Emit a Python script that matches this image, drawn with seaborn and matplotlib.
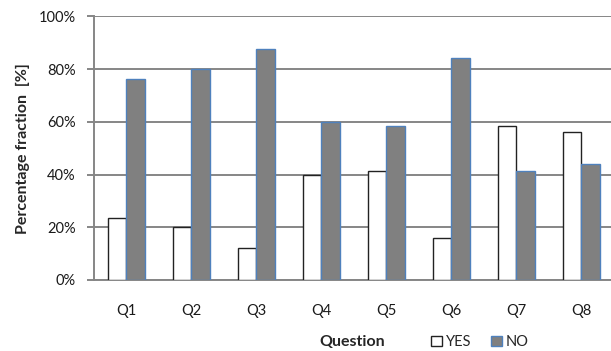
import seaborn as sns
import matplotlib.pyplot as plt
import matplotlib.patches as mpatches
import pandas as pd

# values
questions = ["Q1", "Q2", "Q3", "Q4", "Q5", "Q6", "Q7", "Q8"]
yes_pct = [23.6, 20.0, 12.3, 40.0, 41.5, 15.8, 58.5, 56.0]
no_pct = [76.4, 80.0, 87.7, 60.0, 58.5, 84.2, 41.5, 44.0]

df = pd.DataFrame({
    "Question": questions * 2,
    "Answer": ["YES"] * len(questions) + ["NO"] * len(questions),
    "Percent": yes_pct + no_pct,
})

sns.set_style("white")
plt.rcParams["font.family"] = ["Lato", "DejaVu Sans"]

fig = plt.figure(figsize=(6.11, 3.51), dpi=100)
ax = fig.add_axes([0.1532, 0.2023, 0.851, 0.7507])

sns.barplot(data=df, x="Question", y="Percent", hue="Answer",
            hue_order=["YES", "NO"], palette={"YES": "white", "NO": "#808080"},
            width=0.57, gap=0, ax=ax, legend=False, zorder=3)

for bar in ax.patches:
    if bar.get_facecolor()[0] > 0.9:
        bar.set_edgecolor("#222222")
    else:
        bar.set_edgecolor("#4F81BD")
    bar.set_linewidth(1.0)

ax.set_ylim(0, 100)
ax.set_xlim(-0.5, 7.5)
ax.set_yticks(range(0, 101, 20))
ax.set_yticklabels([f"{v}%" for v in range(0, 101, 20)])
ax.yaxis.grid(True, color="#868686", linewidth=1.4, zorder=0)
ax.set_axisbelow(True)

for side in ["top", "right"]:
    ax.spines[side].set_visible(False)
for side in ["left", "bottom"]:
    ax.spines[side].set_color("#868686")
    ax.spines[side].set_linewidth(1.4)

ax.tick_params(axis="y", length=5, width=1.4, color="#868686", labelsize=10.5,
               labelcolor="#1a1a1a", pad=8, left=True)
ax.tick_params(axis="x", length=0, labelsize=10.5, labelcolor="#1a1a1a", pad=17)

ax.set_xlabel("")
ax.set_ylabel("Percentage fraction  [%]", fontsize=11.5, fontweight="bold",
              labelpad=6)

fig.text(352 / 611, 1 - 342 / 351, "Question", fontsize=11.5, fontweight="bold",
         ha="center", va="center")

handles = [
    mpatches.Patch(facecolor="white", edgecolor="#222222", label="YES"),
    mpatches.Patch(facecolor="#808080", edgecolor="#4F81BD", label="NO"),
]
fig.legend(handles=handles, loc="center left", bbox_to_anchor=(431 / 611, 1 - 342 / 351),
           ncol=2, frameon=False, fontsize=10.5, handlelength=0.75, handleheight=0.75,
           handletextpad=0.25, columnspacing=1.4, borderpad=0, borderaxespad=0)

fig.savefig("out.png", dpi=100)
